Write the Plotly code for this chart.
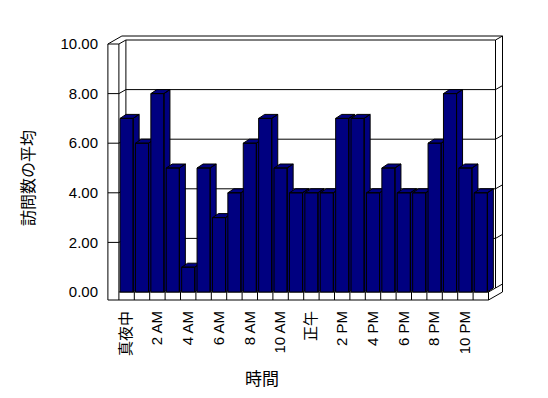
import plotly.graph_objects as go

# ---- data ----
hours = ["真夜中", "1 AM", "2 AM", "3 AM", "4 AM", "5 AM", "6 AM", "7 AM", "8 AM", "9 AM",
         "10 AM", "11 AM", "正午", "1 PM", "2 PM", "3 PM", "4 PM", "5 PM", "6 PM", "7 PM",
         "8 PM", "9 PM", "10 PM", "11 PM"]
visits = [7, 6, 8, 5, 1, 5, 3, 4, 6, 7, 5, 4, 4, 4, 7, 7, 4, 5, 4, 4, 6, 8, 5, 4]
y_ticks = [0, 2, 4, 6, 8, 10]
y_tick_labels = ["0.00", "2.00", "4.00", "6.00", "8.00", "10.00"]
x_tick_labels = hours[::2]

# ---- geometry (style) ----
NAVY = "#000080"
OFF = 8  # page body margin
W, H = 548 - OFF, 398 - OFF
L, R, T, B = 100 - OFF, 510 - OFF, 30 - OFF, 310 - OFF
PX_X = 15.4   # px per category
PX_Y = 24.8   # px per y unit
x0_px = 118.9 + 7.7 - OFF  # pixel of category 0 center
xlo = (L - x0_px) / PX_X
xhi = (R - x0_px) / PX_X
y0_px = 292 - OFF
ylo = -(B - y0_px) / PX_Y
yhi = (y0_px - T) / PX_Y

n = len(hours)
DX, DY = 7 / PX_X, 4 / PX_Y          # chart depth
BDX, BDY = 6 / PX_X, 4 / PX_Y        # bar depth
HW = 0.425                            # half bar width
left_out = -0.5 - 11 / PX_X
floor_bot = -8 / PX_Y
xl, xr = -0.5, n - 0.5
ymax = y_ticks[-1]

fx, fy = [], []
def seg(pts):
    for p in pts:
        fx.append(p[0]); fy.append(p[1])
    fx.append(None); fy.append(None)

# left wall front face + floor front face (L shape)
seg([(left_out, floor_bot), (left_out, ymax), (xl, ymax), (xl, 0), (xr, 0), (xr, floor_bot), (left_out, floor_bot)])
# category dividers on floor front
for i in range(n):
    seg([(xl + i, 0), (xl + i, floor_bot)])
# left wall top + outer top + right outer edge + floor right
seg([(left_out, ymax), (left_out + 2 * DX, ymax + 2 * DY), (xr + 2 * DX, ymax + 2 * DY),
     (xr + 2 * DX, 2 * DY + floor_bot), (xr, floor_bot)])
# inner top
seg([(xl, ymax), (xl + DX, ymax + DY), (xr + DX, ymax + DY), (xr + 2 * DX, ymax + 2 * DY)])
seg([(xl + DX, ymax + DY), (xl + DX, DY)])
seg([(xr + DX, ymax + DY), (xr + DX, DY), (xr + 2 * DX, 2 * DY)])
seg([(xr, 0), (xr + DX, DY)])
# gridlines
for v in y_ticks[1:-1]:
    seg([(left_out, v), (xl, v), (xl + DX, v + DY), (xr + DX, v + DY), (xr + 2 * DX, v + 2 * DY)])

fig = go.Figure()
fig.add_trace(go.Scatter(x=fx, y=fy, mode="lines", line=dict(color="black", width=1),
                         hoverinfo="skip", showlegend=False))

for i, v in enumerate(visits):
    a, b = i - HW, i + HW
    top = [(a, v), (a + BDX, v + BDY), (b + BDX, v + BDY), (b, v), (a, v)]
    side = [(b, 0), (b + BDX, BDY), (b + BDX, v + BDY), (b, v), (b, 0)]
    front = [(a, 0), (a, v), (b, v), (b, 0), (a, 0)]
    xs, ys = [], []
    for poly in (side, top, front):
        for p in poly:
            xs.append(p[0]); ys.append(p[1])
        xs.append(None); ys.append(None)
    fig.add_trace(go.Scatter(x=xs[:-1], y=ys[:-1], mode="lines", fill="toself",
                             fillcolor=NAVY, line=dict(color="black", width=1),
                             hoverinfo="skip", showlegend=False))

FONT = "Liberation Sans, Arial, Noto Sans CJK JP"
fig.update_layout(
    width=W, height=H,
    margin=dict(l=L, r=W - R, t=T, b=H - B),
    paper_bgcolor="white", plot_bgcolor="white",
    showlegend=False, hovermode=False,
    font=dict(family=FONT, color="black"),
    xaxis=dict(range=[xlo, xhi], showgrid=False, zeroline=False, showline=False,
               tickmode="array", tickvals=list(range(0, n, 2)), ticktext=x_tick_labels,
               tickangle=-90, tickfont=dict(size=15, family=FONT), ticks="",
               ticklabelstandoff=-3, automargin=False),
    yaxis=dict(range=[ylo, yhi], showgrid=False, zeroline=False, showline=False,
               tickmode="array", tickvals=y_ticks, ticktext=y_tick_labels,
               tickfont=dict(size=15, family=FONT), ticks="",
               ticklabelstandoff=1, automargin=False),
    annotations=[
        dict(text="訪問数の平均", xref="paper", yref="paper",
             x=(27 - OFF - L) / (R - L), y=(B - (178 - OFF)) / (B - T), textangle=-90,
             xanchor="center", yanchor="middle",
             showarrow=False, font=dict(size=16, family="Noto Sans CJK JP")),
        dict(text="時間", xref="paper", yref="paper",
             x=(262 - OFF - L) / (R - L), y=(B - (377 - OFF)) / (B - T),
             xanchor="center", yanchor="middle",
             showarrow=False, font=dict(size=17, family="Noto Sans CJK JP")),
    ],
)
fig.write_html("out.html")
